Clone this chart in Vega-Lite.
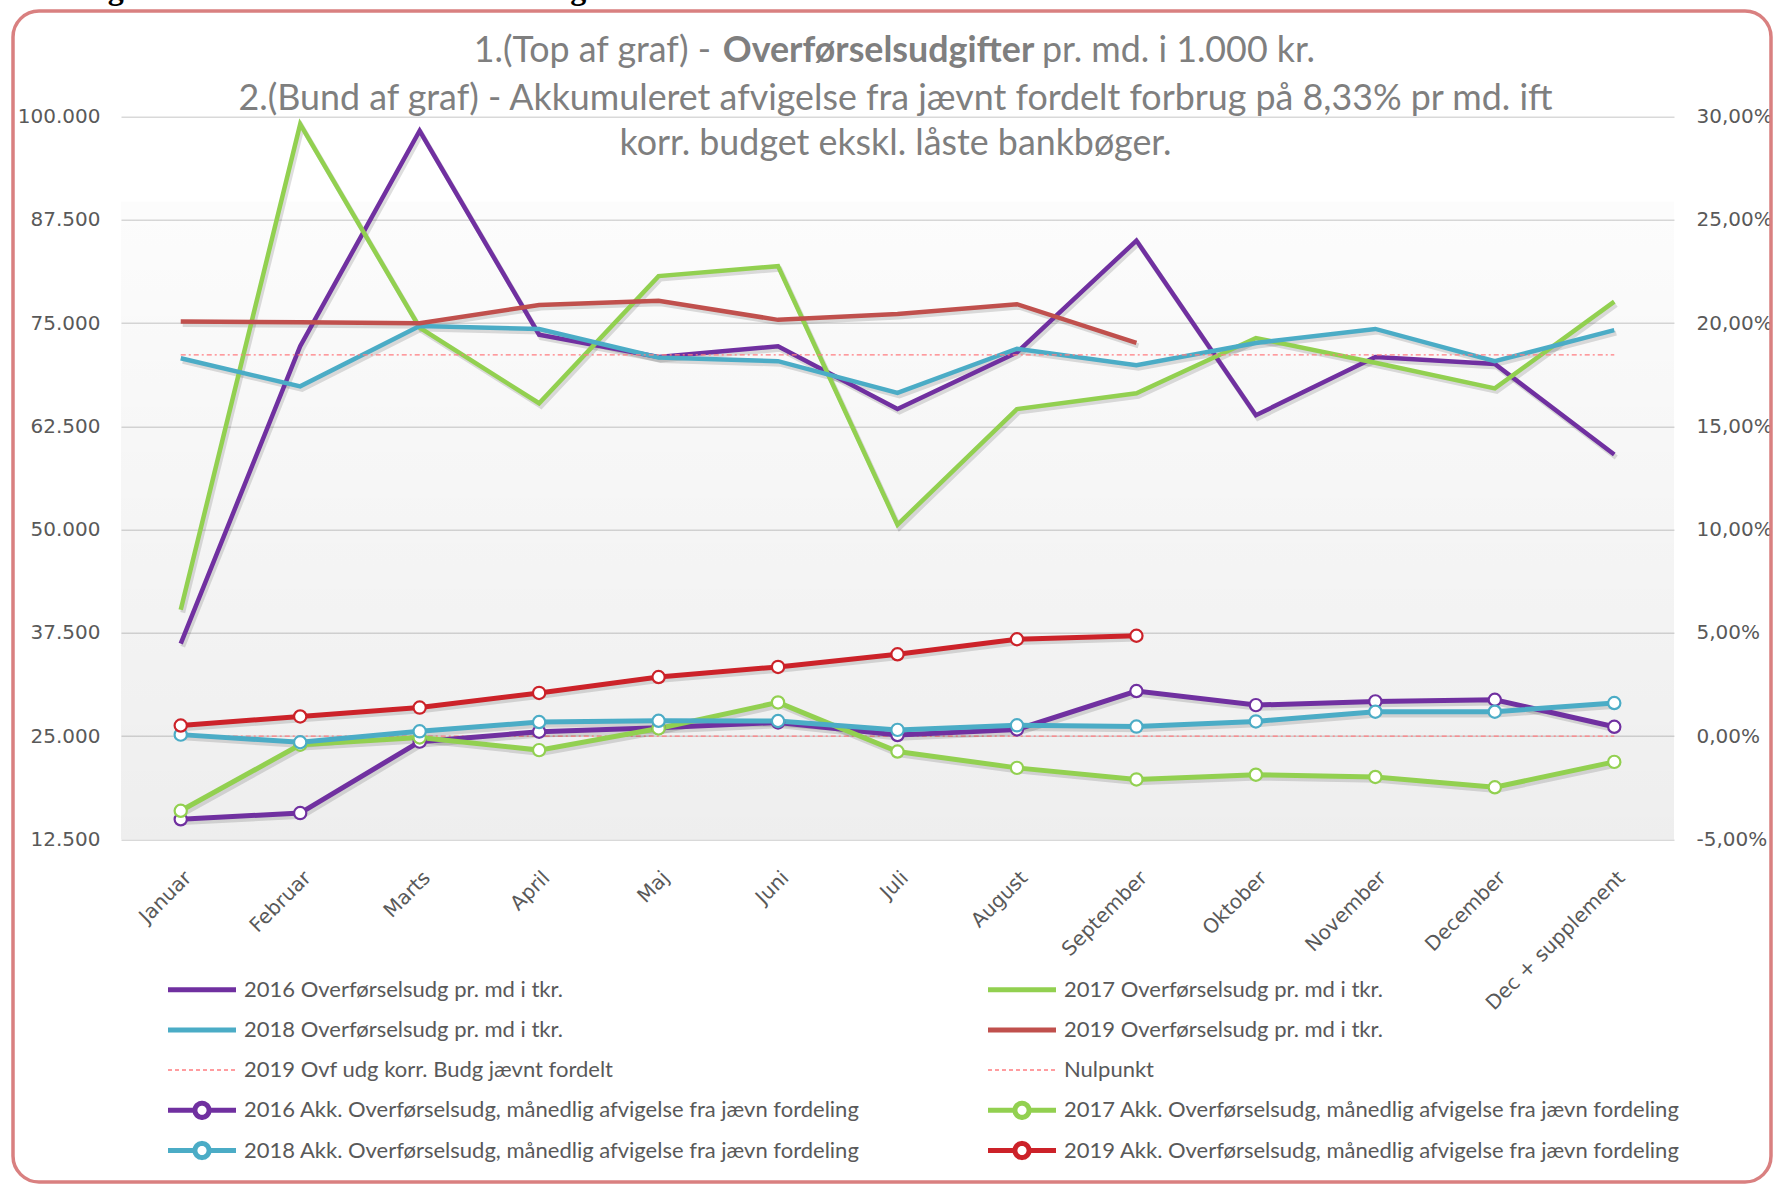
{
  "$schema": "https://vega.github.io/schema/vega-lite/v6.json",
  "autosize": {"type": "none"},
  "width": 1553,
  "height": 722.6,
  "padding": {"left": 121, "top": 116.7, "right": 102, "bottom": 346.7},
  "background": "#FFFFFF",
  "config": {
    "view": {"stroke": null},
    "locale": {"number": {"decimal": ",", "thousands": ".", "grouping": [3], "currency": ["", " kr."]}},
    "axis": {"labelFont": "DejaVu Sans", "labelFontSize": 20, "labelColor": "#595959", "domain": false, "ticks": false, "title": null, "gridColor": "#D9D9D9", "gridWidth": 1.5},
    "legend": {"labelFont": "Lato", "labelFontSize": 22, "labelColor": "#595959", "labelLimit": 0}
  },
  "datasets": {
    "top": [
      {"m": "Januar", "t2016": 36200, "t2017": 40300, "t2018": 70750, "t2019": 75200, "tbud": 71150},
      {"m": "Februar", "t2016": 72200, "t2017": 99100, "t2018": 67350, "t2019": 75100, "tbud": 71150},
      {"m": "Marts", "t2016": 98300, "t2017": 74450, "t2018": 74650, "t2019": 75000, "tbud": 71150},
      {"m": "April", "t2016": 73600, "t2017": 65300, "t2018": 74300, "t2019": 77200, "tbud": 71150},
      {"m": "Maj", "t2016": 70900, "t2017": 80700, "t2018": 70850, "t2019": 77700, "tbud": 71150},
      {"m": "Juni", "t2016": 72200, "t2017": 81900, "t2018": 70400, "t2019": 75400, "tbud": 71150},
      {"m": "Juli", "t2016": 64600, "t2017": 50600, "t2018": 66550, "t2019": 76100, "tbud": 71150},
      {"m": "August", "t2016": 71450, "t2017": 64600, "t2018": 71900, "t2019": 77300, "tbud": 71150},
      {"m": "September", "t2016": 85000, "t2017": 66500, "t2018": 69900, "t2019": 72600, "tbud": 71150},
      {"m": "Oktober", "t2016": 63850, "t2017": 73200, "t2018": 72600, "t2019": null, "tbud": 71150},
      {"m": "November", "t2016": 70900, "t2017": 70200, "t2018": 74300, "t2019": null, "tbud": 71150},
      {"m": "December", "t2016": 70050, "t2017": 67100, "t2018": 70400, "t2019": null, "tbud": 71150},
      {"m": "Dec + supplement", "t2016": 59100, "t2017": 77600, "t2018": 74150, "t2019": null, "tbud": 71150}
    ],
    "akk": [
      {"m": "Januar", "a2016": -0.0403, "a2017": -0.0362, "a2018": 0.0007, "a2019": 0.0051, "anul": 0},
      {"m": "Februar", "a2016": -0.0373, "a2017": -0.0042, "a2018": -0.0030, "a2019": 0.0095, "anul": 0},
      {"m": "Marts", "a2016": -0.0027, "a2017": -0.0007, "a2018": 0.0023, "a2019": 0.0138, "anul": 0},
      {"m": "April", "a2016": 0.0021, "a2017": -0.0068, "a2018": 0.0068, "a2019": 0.0209, "anul": 0},
      {"m": "Maj", "a2016": 0.0040, "a2017": 0.0037, "a2018": 0.0074, "a2019": 0.0286, "anul": 0},
      {"m": "Juni", "a2016": 0.0066, "a2017": 0.0163, "a2018": 0.0073, "a2019": 0.0335, "anul": 0},
      {"m": "Juli", "a2016": 0.0005, "a2017": -0.0075, "a2018": 0.0030, "a2019": 0.0396, "anul": 0},
      {"m": "August", "a2016": 0.0032, "a2017": -0.0154, "a2018": 0.0052, "a2019": 0.0469, "anul": 0},
      {"m": "September", "a2016": 0.0218, "a2017": -0.0210, "a2018": 0.0046, "a2019": 0.0486, "anul": 0},
      {"m": "Oktober", "a2016": 0.0150, "a2017": -0.0187, "a2018": 0.0071, "a2019": null, "anul": 0},
      {"m": "November", "a2016": 0.0168, "a2017": -0.0198, "a2018": 0.0118, "a2019": null, "anul": 0},
      {"m": "December", "a2016": 0.0176, "a2017": -0.0248, "a2018": 0.0118, "a2019": null, "anul": 0},
      {"m": "Dec + supplement", "a2016": 0.0045, "a2017": -0.0125, "a2018": 0.0160, "a2019": null, "anul": 0}
    ]
  },
  "layer": [
    {
      "layer": [
        {
          "data": {"values": [{}]},
          "mark": {"type": "rect", "color": {"gradient": "linear", "x1": 0, "y1": 0, "x2": 0, "y2": 1, "stops": [{"offset": 0, "color": "rgba(0,0,0,0.012)"}, {"offset": 1, "color": "rgba(0,0,0,0.065)"}]}},
          "encoding": {
            "y": {"datum": 89700, "type": "quantitative", "scale": {"domain": [12500, 100000]}},
            "y2": {"datum": 12500}
          }
        },
        {
          "data": {"values": [{}]},
          "mark": {"type": "rect", "x": -108, "y": -105.7, "x2": 1650, "y2": 1065.3, "cornerRadius": 26, "filled": false, "fill": null, "stroke": "#D98080", "strokeWidth": 3.5},
          "encoding": {}
        },
        {
          "data": {"values": [{}]},
          "mark": {"type": "text", "text": "Oversigt over kommunens overførselsudgifter", "x": -104, "y": -117.3, "align": "left", "baseline": "alphabetic", "font": "Liberation Serif", "fontWeight": "bold", "fontSize": 32, "color": "#000000"},
          "encoding": {}
        },
        {
          "data": {"values": [{}]},
          "mark": {"type": "text", "text": "1.(Top af graf) -", "x": 590, "y": -65.7, "align": "right", "baseline": "middle", "font": "Lato", "fontSize": 35.8, "color": "#7F7F7F"},
          "encoding": {}
        },
        {
          "data": {"values": [{}]},
          "mark": {"type": "text", "text": "Overførselsudgifter", "x": 757.5, "y": -65.7, "align": "center", "baseline": "middle", "font": "Lato", "fontWeight": "bold", "fontSize": 35.8, "color": "#7F7F7F"},
          "encoding": {}
        },
        {
          "data": {"values": [{}]},
          "mark": {"type": "rule", "x": 603, "x2": 912, "y": -50, "y2": -50, "color": "#7F7F7F", "strokeWidth": 2.2},
          "encoding": {}
        },
        {
          "data": {"values": [{}]},
          "mark": {"type": "text", "text": "pr. md. i 1.000 kr.", "x": 921, "y": -65.7, "align": "left", "baseline": "middle", "font": "Lato", "fontSize": 35.8, "color": "#7F7F7F"},
          "encoding": {}
        },
        {
          "data": {"values": [{}]},
          "mark": {"type": "text", "text": "2.(Bund af graf) - Akkumuleret afvigelse fra jævnt fordelt forbrug på 8,33% pr md. ift", "x": {"expr": "width/2 - 2"}, "y": -18.2, "align": "center", "baseline": "middle", "font": "Lato", "fontSize": 35.8, "color": "#7F7F7F"},
          "encoding": {}
        },
        {
          "data": {"values": [{}]},
          "mark": {"type": "text", "text": "korr. budget ekskl. låste bankbøger.", "x": {"expr": "width/2 - 2"}, "y": 27.3, "align": "center", "baseline": "middle", "font": "Lato", "fontSize": 35.8, "color": "#7F7F7F"},
          "encoding": {}
        },
        {
          "data": {"name": "top"},
          "transform": [{"fold": ["t2016", "t2017", "t2018", "t2019"], "as": ["serie", "v"]}],
          "mark": {"type": "line", "strokeWidth": 5, "color": "#000000", "opacity": 0.13, "xOffset": 2, "yOffset": 3},
          "encoding": {
            "x": {"field": "m", "type": "ordinal", "sort": ["Januar", "Februar", "Marts", "April", "Maj", "Juni", "Juli", "August", "September", "Oktober", "November", "December", "Dec + supplement"], "scale": {"type": "point", "padding": 0.5}, "axis": {"labelAngle": -45, "labelPadding": 28, "labelLimit": 0, "grid": false}},
            "y": {"field": "v", "type": "quantitative", "scale": {"domain": [12500, 100000]}},
            "detail": {"field": "serie"}
          }
        },
        {
          "data": {"name": "top"},
          "transform": [{"fold": ["t2016", "t2017", "t2018", "t2019"], "as": ["serie", "v"]}],
          "mark": {"type": "line", "strokeWidth": 4.5},
          "encoding": {
            "x": {"field": "m", "type": "ordinal", "sort": ["Januar", "Februar", "Marts", "April", "Maj", "Juni", "Juli", "August", "September", "Oktober", "November", "December", "Dec + supplement"], "scale": {"type": "point", "padding": 0.5}},
            "y": {"field": "v", "type": "quantitative", "scale": {"domain": [12500, 100000]}, "axis": {"orient": "left", "grid": true, "values": [12500, 25000, 37500, 50000, 62500, 75000, 87500, 100000], "format": ",.0f", "labelPadding": 21}},
            "color": {
              "field": "serie", "type": "nominal",
              "scale": {"domain": ["t2016", "t2017", "t2018", "t2019", "tbud", "anul", "a2016", "a2017", "a2018", "a2019"], "range": ["#7030A0", "#92D050", "#4BACC6", "#C0504D", "#FF7C80", "#FF7C80", "#7030A0", "#92D050", "#4BACC6", "#CC2229"]},
              "legend": {
                "title": null, "orient": "none", "legendX": 70, "legendY": 862, "columns": 2, "direction": "horizontal",
                "symbolType": "stroke", "symbolSize": 4624, "symbolStrokeWidth": 5, "labelOffset": 31, "rowPadding": 18.2, "columnPadding": 125,
                "labelExpr": "{'t2016':'2016 Overførselsudg pr. md i tkr.','t2017':'2017 Overførselsudg pr. md i tkr.','t2018':'2018 Overførselsudg pr. md i tkr.','t2019':'2019 Overførselsudg pr. md i tkr.','tbud':'2019 Ovf udg korr. Budg jævnt fordelt','anul':'Nulpunkt','a2016':'2016 Akk. Overførselsudg, månedlig afvigelse fra jævn fordeling','a2017':'2017 Akk. Overførselsudg, månedlig afvigelse fra jævn fordeling','a2018':'2018 Akk. Overførselsudg, månedlig afvigelse fra jævn fordeling','a2019':'2019 Akk. Overførselsudg, månedlig afvigelse fra jævn fordeling'}[datum.value]",
                "encode": {"symbols": {"update": {
                  "shape": {"signal": "indexof(datum.value, 'a2') == 0 ? 'M-1,0L-0.21,0M0.21,0L1,0M0.21,0L0.194,0.08L0.148,0.148L0.08,0.194L0,0.21L-0.08,0.194L-0.148,0.148L-0.194,0.08L-0.21,0L-0.194,-0.08L-0.148,-0.148L-0.08,-0.194L0,-0.21L0.08,-0.194L0.148,-0.148L0.194,-0.08Z' : 'M-1,0L1,0'"},
                  "strokeDash": {"signal": "(datum.value == 'tbud' || datum.value == 'anul') ? [4, 3] : []"},
                  "strokeWidth": {"signal": "(datum.value == 'tbud' || datum.value == 'anul') ? 1.5 : 5"},
                  "strokeJoin": {"value": "round"},
                  "fill": {"value": "#FFFFFF"},
                  "opacity": {"value": 1}
                }}}
              }
            }
          }
        },
        {
          "data": {"name": "top"},
          "transform": [{"fold": ["tbud"], "as": ["serie", "v"]}],
          "mark": {"type": "line", "strokeWidth": 1.3, "strokeDash": [5, 3, 2, 3]},
          "encoding": {
            "x": {"field": "m", "type": "ordinal", "sort": ["Januar", "Februar", "Marts", "April", "Maj", "Juni", "Juli", "August", "September", "Oktober", "November", "December", "Dec + supplement"], "scale": {"type": "point", "padding": 0.5}},
            "y": {"field": "v", "type": "quantitative", "scale": {"domain": [12500, 100000]}},
            "color": {"field": "serie", "type": "nominal", "scale": {"domain": ["t2016", "t2017", "t2018", "t2019", "tbud", "anul", "a2016", "a2017", "a2018", "a2019"]}}
          }
        }
      ]
    },
    {
      "layer": [
        {
          "data": {"name": "akk"},
          "transform": [{"fold": ["anul"], "as": ["serie", "v"]}],
          "mark": {"type": "line", "strokeWidth": 1.3, "strokeDash": [5, 3, 2, 3]},
          "encoding": {
            "x": {"field": "m", "type": "ordinal", "sort": ["Januar", "Februar", "Marts", "April", "Maj", "Juni", "Juli", "August", "September", "Oktober", "November", "December", "Dec + supplement"], "scale": {"type": "point", "padding": 0.5}},
            "y": {"field": "v", "type": "quantitative", "scale": {"domain": [-0.05, 0.3]}, "axis": {"orient": "right", "grid": false, "values": [-0.05, 0, 0.05, 0.1, 0.15, 0.2, 0.25, 0.3], "labelExpr": "replace(format(datum.value, '.2%'), '−', '-')", "labelPadding": 22}},
            "color": {"field": "serie", "type": "nominal", "scale": {"domain": ["t2016", "t2017", "t2018", "t2019", "tbud", "anul", "a2016", "a2017", "a2018", "a2019"]}}
          }
        },
        {
          "data": {"name": "akk"},
          "transform": [{"fold": ["a2016", "a2017", "a2018", "a2019"], "as": ["serie", "v"]}],
          "mark": {"type": "line", "strokeWidth": 5.5, "color": "#000000", "opacity": 0.13, "xOffset": 2, "yOffset": 3},
          "encoding": {
            "x": {"field": "m", "type": "ordinal", "sort": ["Januar", "Februar", "Marts", "April", "Maj", "Juni", "Juli", "August", "September", "Oktober", "November", "December", "Dec + supplement"], "scale": {"type": "point", "padding": 0.5}},
            "y": {"field": "v", "type": "quantitative", "scale": {"domain": [-0.05, 0.3]}},
            "detail": {"field": "serie"}
          }
        },
        {
          "data": {"name": "akk"},
          "transform": [{"fold": ["a2016", "a2017", "a2018", "a2019"], "as": ["serie", "v"]}],
          "mark": {"type": "line", "strokeWidth": 5},
          "encoding": {
            "x": {"field": "m", "type": "ordinal", "sort": ["Januar", "Februar", "Marts", "April", "Maj", "Juni", "Juli", "August", "September", "Oktober", "November", "December", "Dec + supplement"], "scale": {"type": "point", "padding": 0.5}},
            "y": {"field": "v", "type": "quantitative", "scale": {"domain": [-0.05, 0.3]}},
            "color": {"field": "serie", "type": "nominal", "scale": {"domain": ["t2016", "t2017", "t2018", "t2019", "tbud", "anul", "a2016", "a2017", "a2018", "a2019"]}}
          }
        },
        {
          "data": {"name": "akk"},
          "transform": [{"fold": ["a2016", "a2017", "a2018", "a2019"], "as": ["serie", "v"]}],
          "mark": {"type": "point", "shape": "circle", "filled": false, "fill": "#FFFFFF", "fillOpacity": 1, "opacity": 1, "size": 150, "strokeWidth": 2.2},
          "encoding": {
            "x": {"field": "m", "type": "ordinal", "sort": ["Januar", "Februar", "Marts", "April", "Maj", "Juni", "Juli", "August", "September", "Oktober", "November", "December", "Dec + supplement"], "scale": {"type": "point", "padding": 0.5}},
            "y": {"field": "v", "type": "quantitative", "scale": {"domain": [-0.05, 0.3]}},
            "color": {"field": "serie", "type": "nominal", "scale": {"domain": ["t2016", "t2017", "t2018", "t2019", "tbud", "anul", "a2016", "a2017", "a2018", "a2019"]}}
          }
        }
      ]
    }
  ],
  "resolve": {"scale": {"y": "independent"}, "axis": {"y": "independent"}}
}
